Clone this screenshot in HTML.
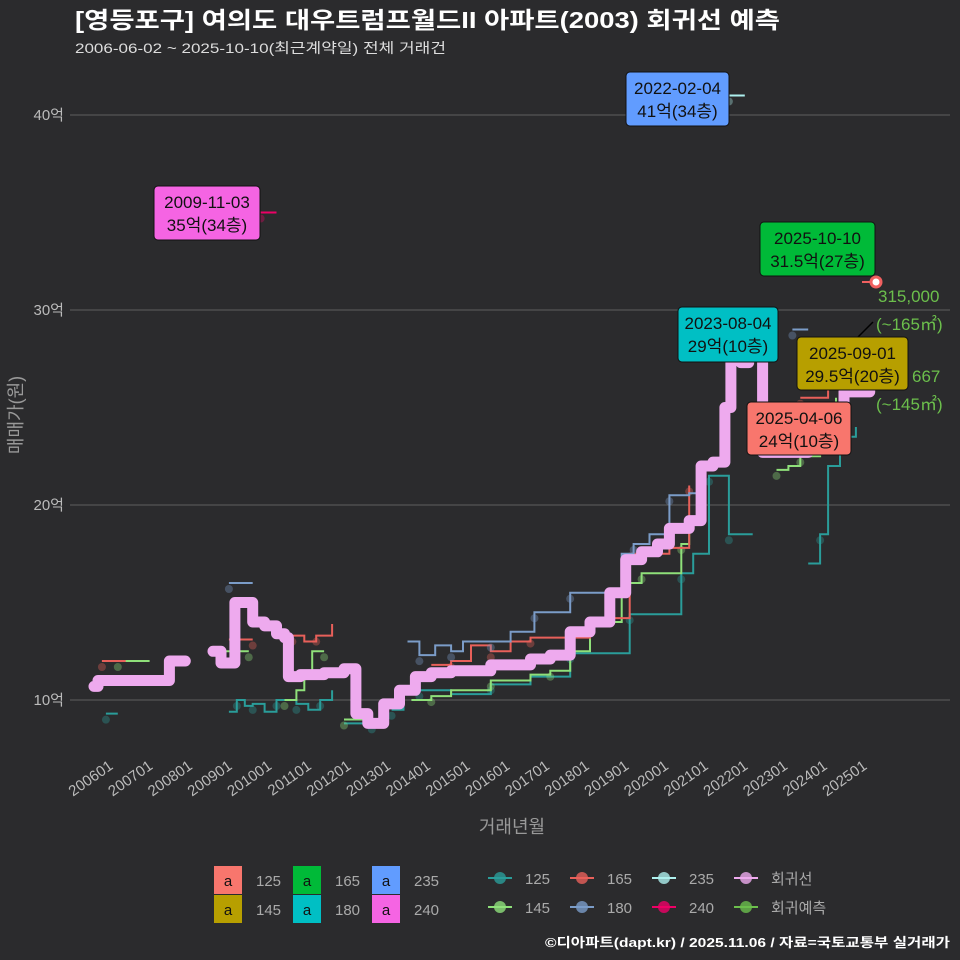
<!DOCTYPE html>
<html><head><meta charset="utf-8"><style>
body{margin:0;background:#2b2b2d;}
svg{display:block;font-family:"Liberation Sans","Noto Sans CJK KR",sans-serif;}
</style></head><body>
<svg id="c" width="960" height="960" viewBox="0 0 960 960">
<rect width="960" height="960" fill="#2b2b2d"/>
<text x="75" y="28" fill="#fff" font-size="23" font-weight="bold" textLength="705" lengthAdjust="spacingAndGlyphs">[영등포구] 여의도 대우트럼프월드II 아파트(2003) 회귀선 예측</text>
<text x="75" y="53" fill="#ddd" font-size="14" textLength="371" lengthAdjust="spacingAndGlyphs">2006-06-02 ~ 2025-10-10(최근계약일) 전체 거래건</text>
<g id="grid"></g><g id="series"></g><g id="labels"></g>
<text transform="translate(22,415) rotate(-90)" text-anchor="middle" fill="#999" font-size="18">매매가(원)</text>
<text x="512" y="833" text-anchor="middle" fill="#999" font-size="18">거래년월</text>
<g id="legend"></g>
<text x="950" y="947" text-anchor="end" fill="#fff" font-size="13" font-weight="bold" textLength="405" lengthAdjust="spacingAndGlyphs">©디아파트(dapt.kr) / 2025.11.06 / 자료=국토교통부 실거래가</text>
</svg>
<script>
const yTicks=[10,20,30,40];
const xTickYears=[2006,2007,2008,2009,2010,2011,2012,2013,2014,2015,2016,2017,2018,2019,2020,2021,2022,2023,2024,2025];
const regT=[2006.0,2006.1,2007.8,2007.9,2008.3,null,2009.0,2009.2,2009.5,2009.55,2009.95,2010.0,2010.3,2010.6,2010.8,2010.9,2011.2,2011.8,2012.3,2012.6,2012.9,2013.1,2013.3,2013.7,2014.1,2014.5,2015.0,2016.0,2017.0,2017.5,2018.0,2018.5,2019.0,2019.4,2019.8,2020.2,2020.5,2021.0,2021.3,2021.6,2021.9,2022.05,2022.2,2022.3,2022.5,2022.75,2022.85,2023.3,2024.0,2024.9,2025.55];
const regV=[10.7,11.0,11.0,12.0,12.0,null,12.5,11.9,11.9,15.0,15.0,14.0,13.8,13.4,13.2,11.2,11.3,11.4,11.6,9.3,8.8,8.8,9.8,10.5,11.2,11.4,11.5,11.8,12.1,12.3,13.5,14.0,15.5,17.2,17.6,18.0,18.8,19.2,22.0,22.2,25.0,28.0,28.5,27.3,28.5,28.5,22.7,22.7,24.0,25.8,26.0];
const s125T=[2006.3,2006.6,null,2009.4,2009.6,2009.8,2010.0,2010.3,2010.6,2010.8,2011.1,2011.4,2011.7,2012.0,null,2012.3,2013.0,null,2013.5,2013.8,2014.2,2015.0,2016.0,2017.0,2018.0,2019.0,2019.5,2020.0,2020.8,2021.1,2021.5,2021.8,2022.0,2022.6,null,2024.0,2024.3,2024.5,2024.8,2025.2];
const s125V=[9.3,9.3,null,9.4,10.0,9.7,9.8,9.4,10.0,10.0,9.8,9.5,10.0,10.5,null,8.8,8.8,null,9.5,10.5,10.5,10.3,10.8,11.2,12.4,12.4,14.4,14.4,16.5,17.5,21.5,21.5,18.5,18.5,null,17.0,18.5,22.0,23.5,24.0];
const s145T=[2006.6,2007.4,null,2009.3,2009.9,null,2010.8,2011.1,2011.3,2011.5,2011.8,null,2012.3,2013.0,null,2014.0,2014.5,2015.0,2016.0,2017.0,2017.5,2018.0,2018.5,2019.3,2019.8,2020.3,2020.8,2021.0,2021.3,null,2023.2,2023.5,2023.8,2024.0,2024.3,2024.7];
const s145V=[12.0,12.0,null,12.5,12.5,null,10.0,10.5,11.5,12.5,12.5,null,9.0,9.0,null,10.0,10.2,10.5,11.0,11.3,11.5,12.5,14.0,16.0,16.5,16.5,18.0,19.0,21.0,null,21.8,22.0,22.5,22.5,25.0,25.5];
const s165T=[2006.2,2006.8,null,2009.4,2010.0,null,2011.0,2011.3,2011.6,2012.0,null,2014.5,2015.0,2015.5,2016.0,2016.5,2017.0,2018.0,2018.5,2019.0,2019.5,2020.5,2021.0,null,2023.8,2024.5];
const s165V=[12.0,12.0,null,13.1,13.1,null,13.3,13.0,13.3,13.9,null,11.8,12.0,12.8,12.5,13.0,13.2,13.2,14.0,14.2,17.5,17.8,21.0,null,25.5,26.5];
const s180T=[2009.4,2010.0,null,2013.9,2014.2,2014.6,2015.0,2015.3,2016.0,2016.5,2017.1,2017.7,2018.0,2019.3,2019.6,2020.0,2020.5,2021.0,2021.3,null,2023.6,2024.0];
const s180V=[16.0,16.0,null,13.0,12.3,12.8,12.5,13.0,13.0,13.5,14.5,14.5,15.5,17.5,18.0,18.5,20.5,20.6,20.8,null,29.0,29.0];
const s235T=[2022.0,2022.4];const s235V=[41.0,41.0];
const s240T=[2010.2,2010.6];const s240V=[35.0,35.0];
const X=t=>94+(t-2006)*39.68, Y=v=>700-(v-10)*19.5;
const NS='http://www.w3.org/2000/svg';
function mk(tag,attrs,parent){const e=document.createElementNS(NS,tag);for(const k in attrs)e.setAttribute(k,attrs[k]);parent.appendChild(e);return e;}
const grid=document.getElementById('grid');
yTicks.forEach(v=>{
 const l=mk('line',{x1:70,x2:950,y1:Y(v),y2:Y(v),stroke:'#555','stroke-width':1.2},grid);
 
 
 const t=mk('text',{x:64,y:Y(v)+5,'text-anchor':'end',fill:'#bbb','font-size':15},grid);
 t.textContent=v+'억';
 
 
});
xTickYears.forEach(y=>{
 const x=X(y);
 const t=mk('text',{transform:`translate(${x+20},${768}) rotate(-35)`,'text-anchor':'end',fill:'#bbb','font-size':15},grid);
 t.textContent=y+'01';
 
 
});
function pathOf(T,V,step){let d='',pen=false,py=0;for(let i=0;i<T.length;i++){if(T[i]===null){pen=false;continue;}const x=X(T[i]).toFixed(1),y=Y(V[i]).toFixed(1);if(pen&&step)d+='L'+x+','+py;d+=(pen?'L':'M')+x+','+y;py=y;pen=true;}return d;}
const sg=document.getElementById('series');
const ser=[[s125T,s125V,'#2a9d9a','series-125'],[s145T,s145V,'#8fe07a','series-145'],[s165T,s165V,'#e8605a','series-165'],[s180T,s180V,'#7b9cc8','series-180'],[s235T,s235V,'#aef0ee','series-235'],[s240T,s240V,'#ee0066','series-240']];
ser.forEach(([T,V,c,n])=>{
 T.forEach((t,i)=>{if(t===null)return;if(i%2)return;
  const d=mk('circle',{cx:X(t),cy:Y(V[i])+6,r:4,fill:c,opacity:0.35},sg);
  
  });
 const p=mk('path',{d:pathOf(T,V,true),fill:'none',stroke:c,'stroke-width':2},sg);
 
 
});
const rp=mk('path',{d:pathOf(regT,regV,true),fill:'none',stroke:'#eeaaee','stroke-width':11,'stroke-linejoin':'round','stroke-linecap':'round'},sg);


const lp=mk('circle',{cx:876,cy:282,r:5,fill:'#fff',stroke:'#f06060','stroke-width':3},sg);


mk('line',{x1:862,y1:282,x2:871,y2:282,stroke:'#f06060','stroke-width':2},sg);
mk('line',{x1:858,y1:337,x2:873,y2:322,stroke:'#000','stroke-width':1.5},sg);
const lg=document.getElementById('labels');
const boxes=[[626,72,103,54,'#619CFF','2022-02-04','41억(34층)'],[154,186,106,54,'#F564E3','2009-11-03','35억(34층)'],[760,222,115,54,'#00BA38','2025-10-10','31.5억(27층)'],[678,307,100,55,'#00BFC4','2023-08-04','29억(10층)'],[797,337,111,53,'#B79F00','2025-09-01','29.5억(20층)'],[747,402,104,53,'#F8766D','2025-04-06','24억(10층)']];
boxes.forEach(([x,y,w,h,c,a,b])=>{
 const g=mk('g',{},lg);
 
 
 mk('rect',{x:x,y:y,width:w,height:h,rx:4,fill:c,stroke:'#111','stroke-width':1},g);
 mk('text',{x:x+w/2,y:y+22,'text-anchor':'middle','font-size':17,fill:'#111'},g).textContent=a;
 mk('text',{x:x+w/2,y:y+45,'text-anchor':'middle','font-size':17,fill:'#111'},g).textContent=b;
});
[[878,302,'315,000'],[876,330,'(~165㎡)'],[912,382,'667'],[876,410,'(~145㎡)']].forEach(([x,y,s])=>{
 const t=mk('text',{x:x,y:y,fill:'#6cbf4c','font-size':17},lg);t.textContent=s;
 
 
});
const leg=document.getElementById('legend');
const fills=[['125','#F8766D',214,866],['145','#B79F00',214,895],['165','#00BA38',293,866],['180','#00BFC4',293,895],['235','#619CFF',372,866],['240','#F564E3',372,895]];
fills.forEach(([n,c,x,y])=>{
 const g=mk('g',{},leg);
 
 
 mk('rect',{x:x,y:y,width:28,height:28,fill:c},g);
 mk('text',{x:x+14,y:y+20,'text-anchor':'middle','font-size':15,fill:'#111'},g).textContent='a';
 mk('text',{x:x+42,y:y+20,'font-size':15,fill:'#aaa'},g).textContent=n;
});
const lines=[['125','#2a9d9a',488,878],['145','#8fe07a',488,907],['165','#e8605a',570,878],['180','#7b9cc8',570,907],['235','#aef0ee',652,878],['240','#ee0066',652,907],['회귀선','#eeaaee',734,878],['회귀예측','#6cbf4c',734,907]];
lines.forEach(([n,c,x,y])=>{
 const g=mk('g',{},leg);
 
 
 mk('line',{x1:x,x2:x+24,y1:y,y2:y,stroke:c,'stroke-width':2},g);
 mk('circle',{cx:x+12,cy:y,r:6,fill:c,opacity:0.8},g);
 mk('text',{x:x+37,y:y+6,'font-size':15,fill:'#aaa'},g).textContent=n;
});
</script>
</body></html>
